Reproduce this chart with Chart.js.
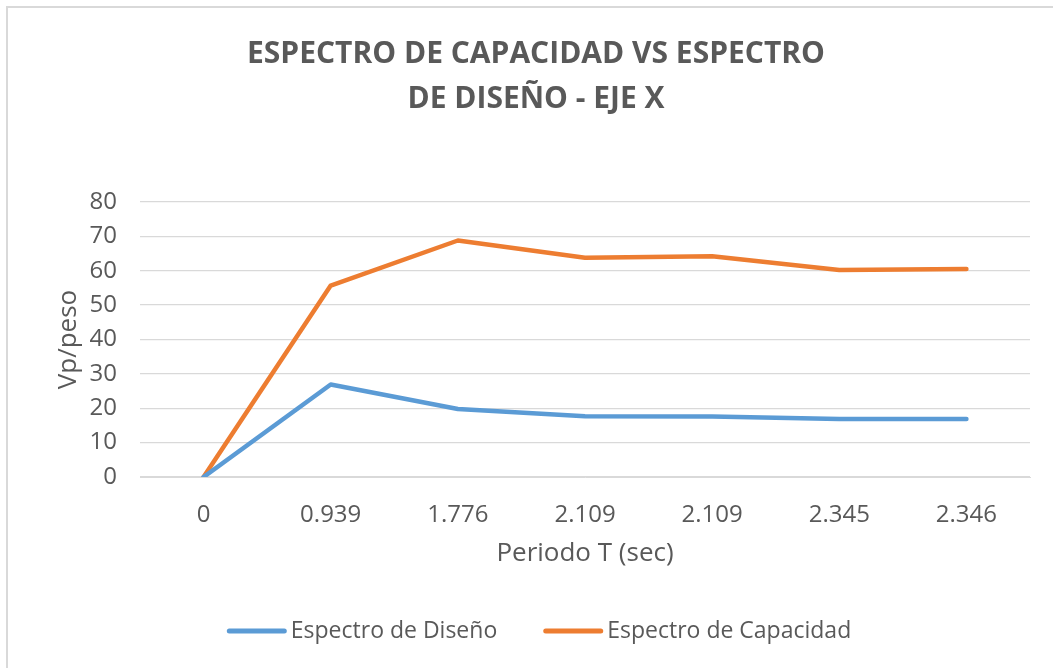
<!DOCTYPE html>
<html>
<head>
<meta charset="utf-8">
<script src="https://cdn.jsdelivr.net/npm/chart.js@4/dist/chart.umd.min.js"></script>
<style>
  html, body { margin:0; padding:0; background:#fff; overflow:hidden; }
  #frame { position:absolute; left:6px; top:6px; width:1100px; height:700px; border:2px solid #d9d9d9; }
  #wrap { position:absolute; left:0; top:0; width:1053px; height:668px; }
</style>
</head>
<body>
<div id="frame"></div>
<div id="wrap"><canvas id="chart" width="1053" height="668"></canvas></div>
<script>
// periodo T (sec) — category labels, as printed on the axis
const periodos = ['0', '0.939', '1.776', '2.109', '2.109', '2.345', '2.346'];
// Vp/peso for each spectrum
const espectroDiseno    = [0, 26.9, 19.8, 17.7, 17.6, 16.9, 16.9];
const espectroCapacidad = [0, 55.7, 68.8, 63.8, 64.2, 60.2, 60.5];
const yTicks = [0, 10, 20, 30, 40, 50, 60, 70, 80];

const TXT = '#595959', GRID = '#d9d9d9';
const FONT = '"Open Sans", "Noto Sans", sans-serif';

// legend drawn under the axis title: short line + label, centred as a row
const lineLegend = {
  id: 'lineLegend',
  afterDraw(chart) {
    const ctx = chart.ctx;
    const y = 631, lineLen = 60, gap = 4, itemGap = 46;
    ctx.save();
    ctx.font = '23px ' + FONT;
    const items = chart.data.datasets.map(ds => ({ ds, w: ctx.measureText(ds.label).width }));
    const total = items.reduce((s, it) => s + lineLen + gap + it.w, 0) + itemGap * (items.length - 1);
    let x = 539 - total / 2;
    items.forEach(it => {
      ctx.strokeStyle = it.ds.borderColor;
      ctx.lineWidth = 5;
      ctx.lineCap = 'round';
      ctx.beginPath();
      ctx.moveTo(x + 2.5, y);
      ctx.lineTo(x + lineLen - 2.5, y);
      ctx.stroke();
      ctx.fillStyle = TXT;
      ctx.textBaseline = 'middle';
      ctx.textAlign = 'left';
      ctx.fillText(it.ds.label, x + lineLen + gap, y);
      x += lineLen + gap + it.w + itemGap;
    });
    ctx.restore();
  }
};

new Chart(document.getElementById('chart').getContext('2d'), {
  type: 'line',
  data: {
    labels: periodos,
    datasets: [
      { label: 'Espectro de Diseño', data: espectroDiseno, borderColor: '#5b9bd5', backgroundColor: '#5b9bd5',
        borderWidth: 4.5, pointRadius: 0, tension: 0, borderCapStyle: 'round', borderJoinStyle: 'round' },
      { label: 'Espectro de Capacidad', data: espectroCapacidad, borderColor: '#ed7d31', backgroundColor: '#ed7d31',
        borderWidth: 4.5, pointRadius: 0, tension: 0, borderCapStyle: 'round', borderJoinStyle: 'round' }
    ]
  },
  options: {
    responsive: false,
    animation: false,
    layout: { padding: { left: 42, right: 23, top: 8, bottom: 99 } },
    plugins: {
      title: {
        display: true,
        text: ['ESPECTRO DE CAPACIDAD VS ESPECTRO', 'DE DISEÑO - EJE X'],
        color: TXT,
        font: { family: FONT, size: 30, weight: 'bold', lineHeight: 45/30 },
        padding: { top: 23.5, bottom: 80.5 }
      },
      legend: { display: false },
      tooltip: { enabled: false }
    },
    scales: {
      x: {
        offset: true,
        grid: { display: false, drawTicks: false },
        border: { display: true, color: GRID, width: 1 },
        ticks: { color: TXT, font: { family: FONT, size: 24 }, padding: 24, maxRotation: 0, autoSkip: false },
        title: { display: true, text: 'Periodo T (sec)', color: TXT, font: { family: FONT, size: 26 }, padding: { top: 0, bottom: 0 } },
        afterFit: s => { s.height = 92; }
      },
      y: {
        min: 0, max: 80,
        afterBuildTicks: s => { s.ticks = yTicks.map(v => ({ value: v })); },
        grid: { color: GRID, lineWidth: 1.3, drawTicks: false },
        border: { display: false },
        ticks: { color: TXT, font: { family: FONT, size: 24 }, padding: 23 },
        title: { display: true, text: 'Vp/peso', color: TXT, font: { family: FONT, size: 26 }, padding: { top: 11, bottom: 0 } },
        afterFit: s => { s.width = 98; }
      }
    }
  },
  plugins: [lineLegend]
});
</script>
</body>
</html>
